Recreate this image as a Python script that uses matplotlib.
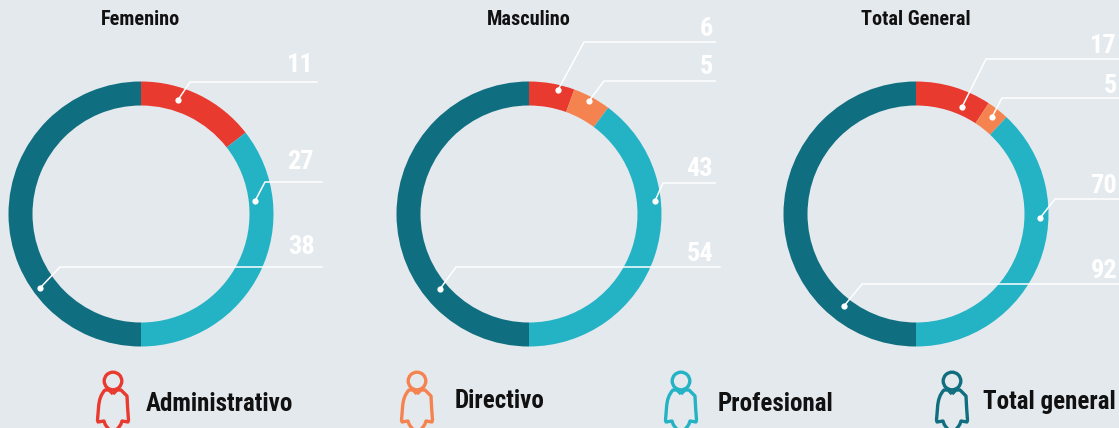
import matplotlib
matplotlib.use('Agg')
import matplotlib.pyplot as plt
from matplotlib.path import Path
from matplotlib.patches import PathPatch, Circle

W, H = 1119, 428
plt.rcParams['font.family'] = ['Roboto Condensed', 'DejaVu Sans']

bg = '#E4E9ED'
cats = ['Administrativo', 'Directivo', 'Profesional', 'Total general']
colors = ['#E93A2F', '#F58350', '#24B3C5', '#0F6E7F']
titles = ['Femenino', 'Masculino', 'Total General']

femenino = [11, 0, 27, 38]
masculino = [6, 5, 43, 54]
total = [17, 5, 70, 92]
series = [femenino, masculino, total]

centers = [141, 529, 916]
cy = 214
r_out = 132.5
r_in = 108.5

# leader lines, in picture pixels: dot, elbow, end, label right edge, label y
leaders = [
    {0: ((178, 100), (190, 82), 317, 314, 65),
     2: ((255, 201), (265, 182), 322, 314, 162),
     3: ((40, 288), (60, 267), 322, 315, 247)},
    {0: ((558, 90), (584, 42), 715, 713, 29),
     1: ((589, 101), (604, 81), 715, 713, 67),
     2: ((655, 201), (663, 183), 715, 713, 169),
     3: ((440, 289), (456, 267), 720, 713, 254)},
    {0: ((962, 107), (986, 59), 1119, 1117, 46),
     1: ((992, 117), (1002, 98), 1119, 1117, 86),
     2: ((1040, 218), (1055, 199), 1119, 1117, 186),
     3: ((844, 306), (862, 284), 1119, 1117, 271)},
]

legend_icon_x = [113, 417, 681, 952]
legend_text_x = [146, 455, 718, 983]
legend_text_y = [404, 401, 404, 402]

fig = plt.figure(figsize=(W / 100, H / 100), dpi=100, facecolor=bg)

# donuts
for vals, cx in zip(series, centers):
    pax = fig.add_axes([(cx - r_out) / W, (H - cy - r_out) / H, 2 * r_out / W, 2 * r_out / H])
    pax.pie(vals, colors=colors, startangle=90, counterclock=False, radius=1,
            wedgeprops=dict(width=1 - r_in / r_out, linewidth=0))
    pax.set_xlim(-1, 1)
    pax.set_ylim(-1, 1)

# overlay in pixel coords
ax = fig.add_axes([0, 0, 1, 1], zorder=5)
ax.set_xlim(0, W)
ax.set_ylim(H, 0)
ax.axis('off')

for title, cx in zip(titles, centers):
    ax.text(cx, 19, title, ha='center', va='center', fontsize=14.6, fontweight='bold', color='#111111')

for vals, lead in zip(series, leaders):
    for i, (dot, elbow, end, lx, ly) in lead.items():
        ax.plot([dot[0], elbow[0], end], [dot[1], elbow[1], elbow[1]], color='white', lw=1.1, solid_joinstyle='miter')
        ax.plot(dot[0], dot[1], 'o', color='white', ms=4.5, mew=0)
        ax.text(lx, ly, str(vals[i]), ha='right', va='center', fontsize=19, fontweight='bold', color='white')


def person(x, color):
    # head
    ax.add_patch(Circle((x, 381), 8.8, fill=False, ec=color, lw=2.4))
    # body, runs off the bottom of the picture
    verts = [(x, 394), (x - 4, 390), (x - 8, 390), (x - 14, 396), (x - 14.5, 408), (x - 15.5, 420),
             (x - 15, 422), (x - 9, 421), (x - 8, 424), (x - 4, 431), (x, 431), (x + 4, 431), (x + 8, 424),
             (x + 9, 421), (x + 15, 422), (x + 15.5, 420), (x + 14.5, 408), (x + 14, 396), (x + 8, 390),
             (x + 4, 390), (x, 394)]
    codes = [Path.MOVETO, Path.LINETO, Path.LINETO, Path.CURVE3, Path.CURVE3, Path.LINETO,
             Path.LINETO, Path.LINETO, Path.LINETO, Path.CURVE3, Path.CURVE3, Path.CURVE3, Path.CURVE3,
             Path.LINETO, Path.LINETO, Path.LINETO, Path.CURVE3, Path.CURVE3, Path.LINETO,
             Path.LINETO, Path.LINETO]
    ax.add_patch(PathPatch(Path(verts, codes), fill=False, ec=color, lw=2.4, joinstyle='round'))


for cat, col, ix, tx, ty in zip(cats, colors, legend_icon_x, legend_text_x, legend_text_y):
    person(ix, col)
    ax.text(tx, ty, cat, ha='left', va='center', fontsize=18, fontweight='bold', color='#111111')

fig.savefig('out.png', dpi=100, facecolor=bg)
